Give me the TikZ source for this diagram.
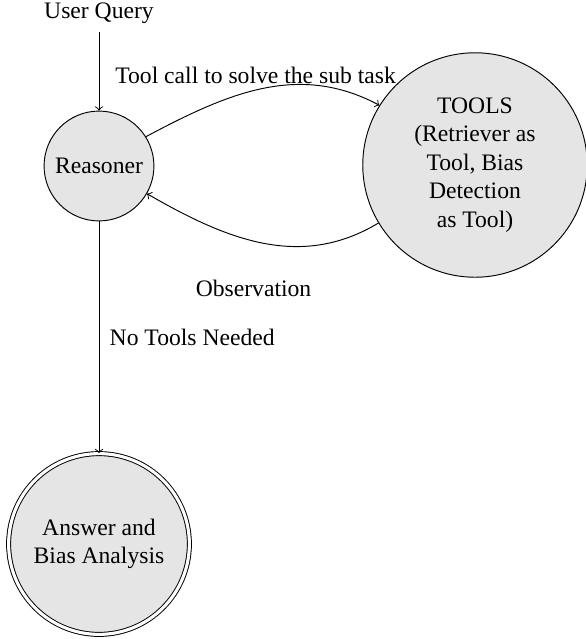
\documentclass[tikz,border=0pt]{standalone}
\usepackage{fontspec}
\setmainfont{Liberation Serif}
\usetikzlibrary{arrows}

\tikzset{
  state/.style={circle, draw, fill=gray!20, align=center, inner sep=1pt},
  accepting/.style={double, double distance=1.3pt},
}

\begin{document}
\begin{tikzpicture}[x=0.4232pt,y=0.4232pt,yscale=-1,xscale=1]
\useasboundingbox (0,0) rectangle (586,639);

% States
\node [state, minimum size=46.5pt] (reasoner) at (99,166) {Reasoner};
\node [state, minimum size=95pt] (tools) at (475,165) {TOOLS\\(Retriever as\\Tool, Bias\\Detection\\as Tool)};
\node [state, accepting, minimum size=76.5pt] (answer) at (99,544) {Answer and\\Bias Analysis};

% Input
\node (query) at (99,13) {User Query};

% Transitions
\draw [->] (query) -- (reasoner);
\draw [->] (reasoner.32) to [out=-28,in=-152] node [midway,above=-1.5pt,xshift=-3pt] {Tool call to solve the sub task} (tools.148);
\draw [->] (tools.211) to [out=149,in=30] node [midway,below=12pt,xshift=-4pt] {Observation} (reasoner.-30);
\draw [->] (reasoner) -- node [midway,right=1pt] {No Tools Needed} (answer);

\end{tikzpicture}
\end{document}
